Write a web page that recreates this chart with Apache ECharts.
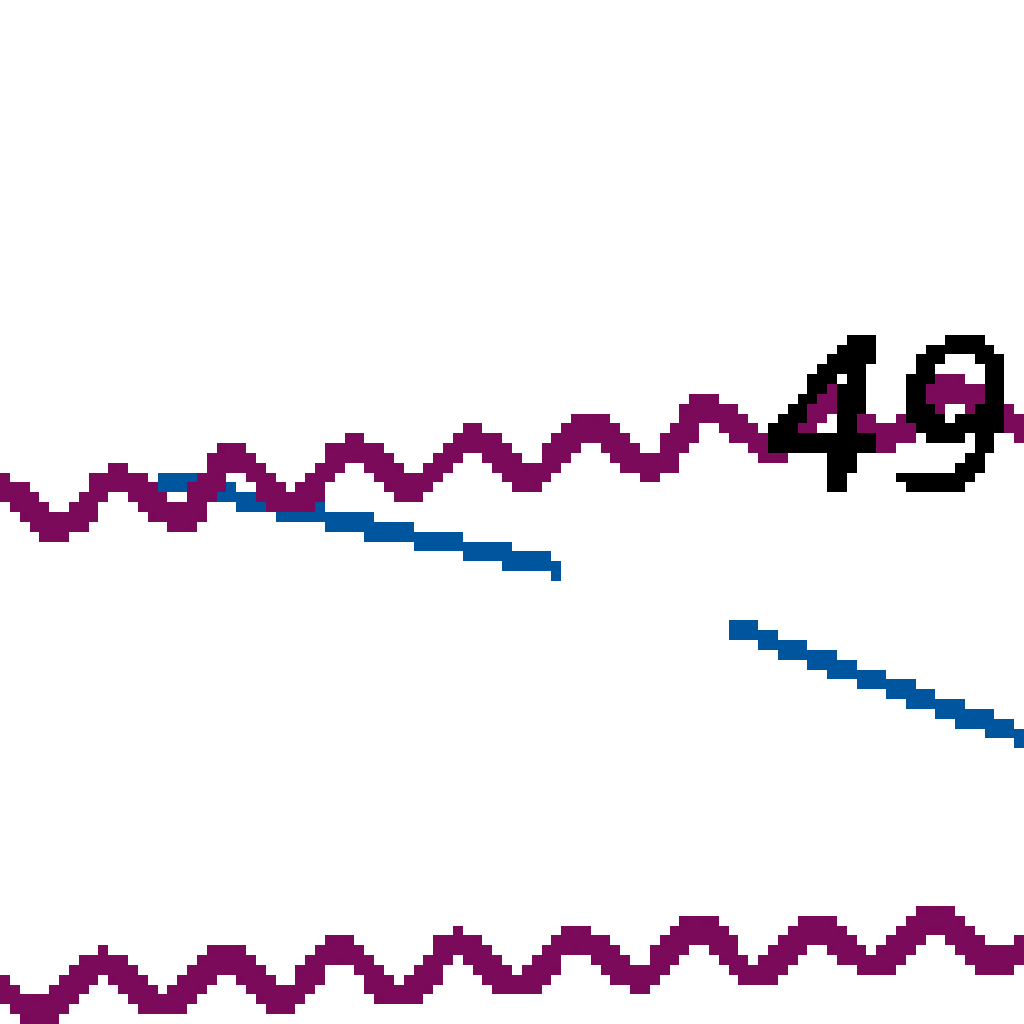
<!DOCTYPE html>
<html>
<head>
<meta charset="utf-8">
<script src="https://cdn.jsdelivr.net/npm/echarts@6/dist/echarts.min.js"></script>
<style>
  html, body { margin: 0; padding: 0; background: #fff; }
  #chart { width: 1024px; height: 1024px; }
  /* big square pixels, no soft edges */
  #chart canvas { image-rendering: pixelated; filter: url(#crisp); }
</style>
</head>
<body>
<svg width="0" height="0" style="position:absolute">
  <filter id="crisp" color-interpolation-filters="sRGB">
    <feComponentTransfer>
      <feFuncA type="discrete" tableValues="0 1"/>
    </feComponentTransfer>
  </filter>
</svg>
<div id="chart"></div>
<script>
// upper wavy line: crests and dips, [x, y]
const upperWave = [
  [-5.7, 47.5], [0.2, 52.4], [5.7, 48.4], [11.5, 53.3], [17.6, 49.4],
  [22.7, 55.3], [28.4, 50.9], [34.7, 56.3], [40.0, 52.3], [46.3, 57.2],
  [51.7, 53.3], [57.4, 58.2], [63.8, 54.3], [69.0, 60.2], [75.8, 55.9],
  [81.8, 61.4], [86.4, 57.0], [93.0, 62.1], [101.1, 57.8], [106.4, 62.7]
]

// lower wavy line
const lowerWave = [
  [-1.7, 5.8], [4.2, 1.2], [10.1, 6.2], [15.8, 1.8], [22.2, 6.6],
  [27.4, 2.2], [33.2, 7.6], [39.1, 2.7], [44.9, 8.1], [50.4, 3.7],
  [56.3, 8.6], [62.3, 4.2], [68.0, 9.6], [73.8, 4.7], [79.6, 9.6],
  [85.4, 5.7], [91.2, 10.5], [97.0, 5.7], [102.7, 11.1]
]

// blue line, broken in the middle
const blueLine = [
  [15.3, 53.1], [55.0, 44.5], null, [71.5, 38.8], [102.5, 27.0]
]

// value label
const labelPoint = [[87.0, 56.8, 49]]

const purple = '#7b0a5a'
const blue = '#00569e'

const chartDom = document.getElementById('chart')
// render at ~104px and let the browser blow it up
let myChart = echarts.init(chartDom, null, { devicePixelRatio: 104 / 1024 })

// each layer gets its own canvas so overlaps stay crisp
let option = {
  animation: false,
  grid: { left: 0, right: 0, top: 0, bottom: 0 },
  xAxis: { type: 'value', min: 0, max: 100, show: false },
  yAxis: { type: 'value', min: 0, max: 100, show: false },
  series: [
    {
      name: 'blue',
      type: 'line',
      data: blueLine,
      symbol: 'none',
      connectNulls: false,
      lineStyle: { color: blue, width: 20 },
      zlevel: 0
    },
    {
      name: 'upper',
      type: 'line',
      data: upperWave,
      symbol: 'none',
      smooth: 0.4,
      smoothMonotone: 'x',
      lineStyle: { color: purple, width: 27 },
      zlevel: 1
    },
    {
      name: 'lower',
      type: 'line',
      data: lowerWave,
      symbol: 'none',
      smooth: 0.4,
      smoothMonotone: 'x',
      lineStyle: { color: purple, width: 27 },
      zlevel: 1
    },
    {
      name: 'label',
      type: 'scatter',
      data: labelPoint,
      symbolSize: 1,
      itemStyle: { color: 'transparent' },
      label: {
        show: true,
        position: 'inside',
        formatter: p => String(p.value[2]),
        color: '#000',
        fontSize: 200,
        fontStyle: 'italic',
        fontFamily: 'DejaVu Sans',
        textBorderColor: '#000',
        textBorderWidth: 5
      },
      zlevel: 2
    }
  ]
}

myChart.setOption(option)
</script>
</body>
</html>
